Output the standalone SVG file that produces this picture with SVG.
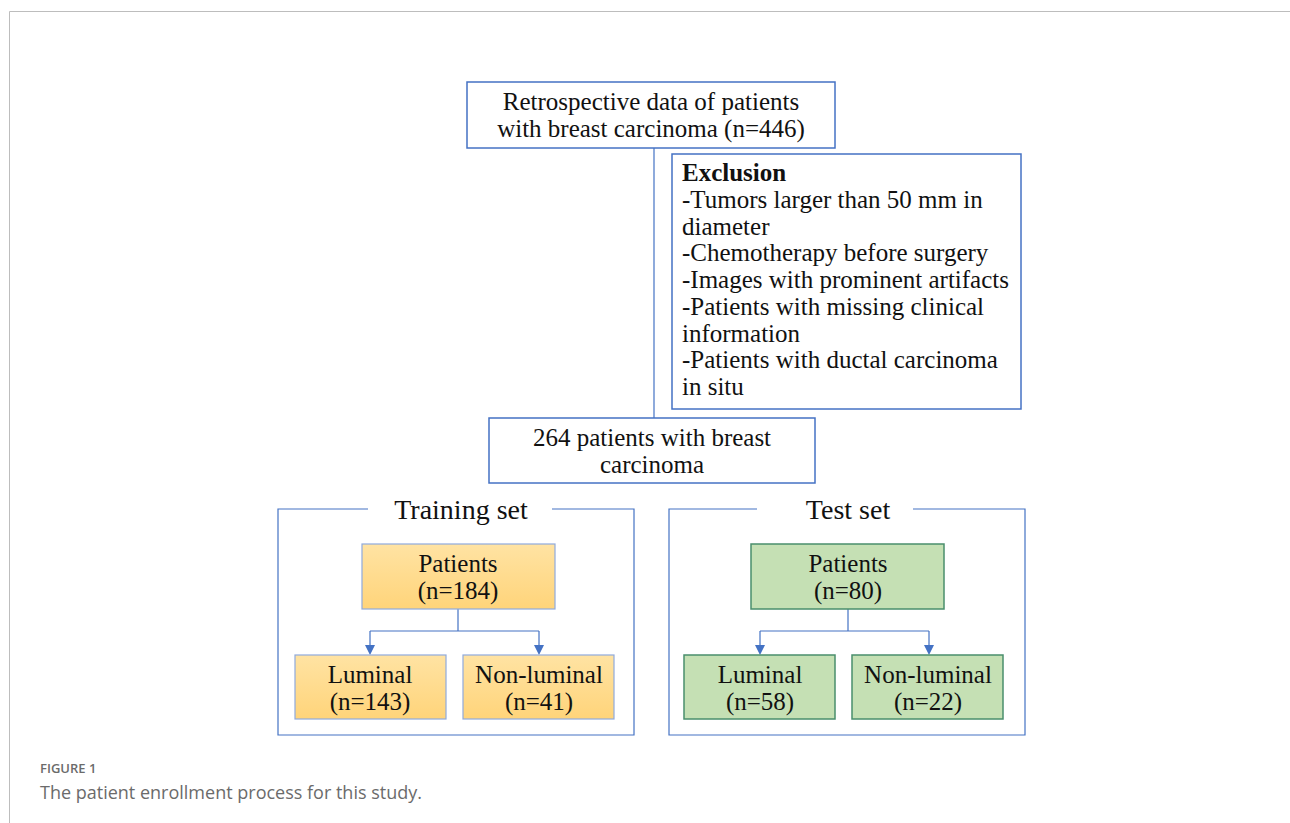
<svg xmlns="http://www.w3.org/2000/svg" width="1290" height="823" viewBox="0 0 1290 823">
<style>
.t{font-family:"Liberation Serif","Times New Roman",serif;font-size:25px;fill:#111;}
.c{text-anchor:middle;}
.h{font-size:28px;}
.b{fill:#fff;stroke:#4472C4;stroke-width:1.5;}
.o{fill:url(#og);stroke:#8FAADC;stroke-width:1.2;}
.g{fill:#C5E0B4;stroke:#4A8F6C;stroke-width:1.5;}
.ln{fill:none;stroke:#4472C4;stroke-width:1.2;}
.cap{font-family:"Open Sans","Noto Sans",sans-serif;fill:#6b6b6b;}
</style>
<defs>
<linearGradient id="og" x1="0" y1="0" x2="0" y2="1">
<stop offset="0" stop-color="#FFE3A3"/>
<stop offset="1" stop-color="#FFD47A"/>
</linearGradient>
</defs>
<rect width="1290" height="823" fill="#fff"/>
<path d="M9.5,823 V11.5 H1290" fill="none" stroke="#bdbdbd" stroke-width="1"/>

<g id="connectors">
<path class="ln" d="M654,148 V418"/>
<path class="ln" d="M458,609 V631 M370,631 H539"/>
<path d="M370,631 V646 M539,631 V646" class="ln"/>
<path d="M365,645 H375 L370,655 Z M534,645 H544 L539,655 Z" fill="#4472C4"/>
<path class="ln" d="M848,609 V631 M760,631 H929"/>
<path d="M760,631 V646 M929,631 V646" class="ln"/>
<path d="M755,645 H765 L760,655 Z M924,645 H934 L929,655 Z" fill="#4472C4"/>
</g>

<g id="source">
<rect class="b" x="467" y="82" width="368" height="66"/>
<text class="t c" x="651" y="110">Retrospective data of patients</text>
<text class="t c" x="651" y="137">with breast carcinoma (n=446)</text>
</g>

<g id="exclusion">
<rect class="b" x="672" y="154" width="349" height="255"/>
<text class="t" x="682" y="181" font-weight="bold">Exclusion</text>
<text class="t" x="682" y="208">-Tumors larger than 50 mm in</text>
<text class="t" x="682" y="235">diameter</text>
<text class="t" x="682" y="261">-Chemotherapy before surgery</text>
<text class="t" x="682" y="288">-Images with prominent artifacts</text>
<text class="t" x="682" y="315">-Patients with missing clinical</text>
<text class="t" x="682" y="342">information</text>
<text class="t" x="682" y="368">-Patients with ductal carcinoma</text>
<text class="t" x="682" y="395">in situ</text>
</g>

<g id="included">
<rect class="b" x="489" y="418" width="326" height="65"/>
<text class="t c" x="652" y="446">264 patients with breast</text>
<text class="t c" x="652" y="473">carcinoma</text>
</g>

<g id="training-set">
<path class="ln" stroke-width="1.5" d="M368,509 H278 V735 H634 V509 H552"/>
<text class="t c h" x="461" y="519">Training set</text>
</g>

<g id="test-set">
<path class="ln" stroke-width="1.5" d="M757,509 H669 V735 H1025 V509 H913"/>
<text class="t c h" x="848" y="519">Test set</text>
</g>

<g id="train-patients">
<rect class="o" x="362" y="544" width="193" height="65"/>
<text class="t c" x="458" y="572">Patients</text>
<text class="t c" x="458" y="599">(n=184)</text>
</g>
<g id="train-luminal">
<rect class="o" x="295" y="655" width="151" height="64"/>
<text class="t c" x="370" y="683">Luminal</text>
<text class="t c" x="370" y="710">(n=143)</text>
</g>
<g id="train-nonluminal">
<rect class="o" x="463" y="655" width="151" height="64"/>
<text class="t c" x="539" y="683">Non-luminal</text>
<text class="t c" x="539" y="710">(n=41)</text>
</g>

<g id="test-patients">
<rect class="g" x="751" y="544" width="193" height="65"/>
<text class="t c" x="848" y="572">Patients</text>
<text class="t c" x="848" y="599">(n=80)</text>
</g>
<g id="test-luminal">
<rect class="g" x="684" y="655" width="151" height="64"/>
<text class="t c" x="760" y="683">Luminal</text>
<text class="t c" x="760" y="710">(n=58)</text>
</g>
<g id="test-nonluminal">
<rect class="g" x="852" y="655" width="151" height="64"/>
<text class="t c" x="928" y="683">Non-luminal</text>
<text class="t c" x="928" y="710">(n=22)</text>
</g>

<g id="caption">
<text class="cap" x="40" y="773" font-size="13" font-weight="600">FIGURE 1</text>
<text class="cap" x="40" y="799" font-size="18">The patient enrollment process for this study.</text>
</g>
</svg>
